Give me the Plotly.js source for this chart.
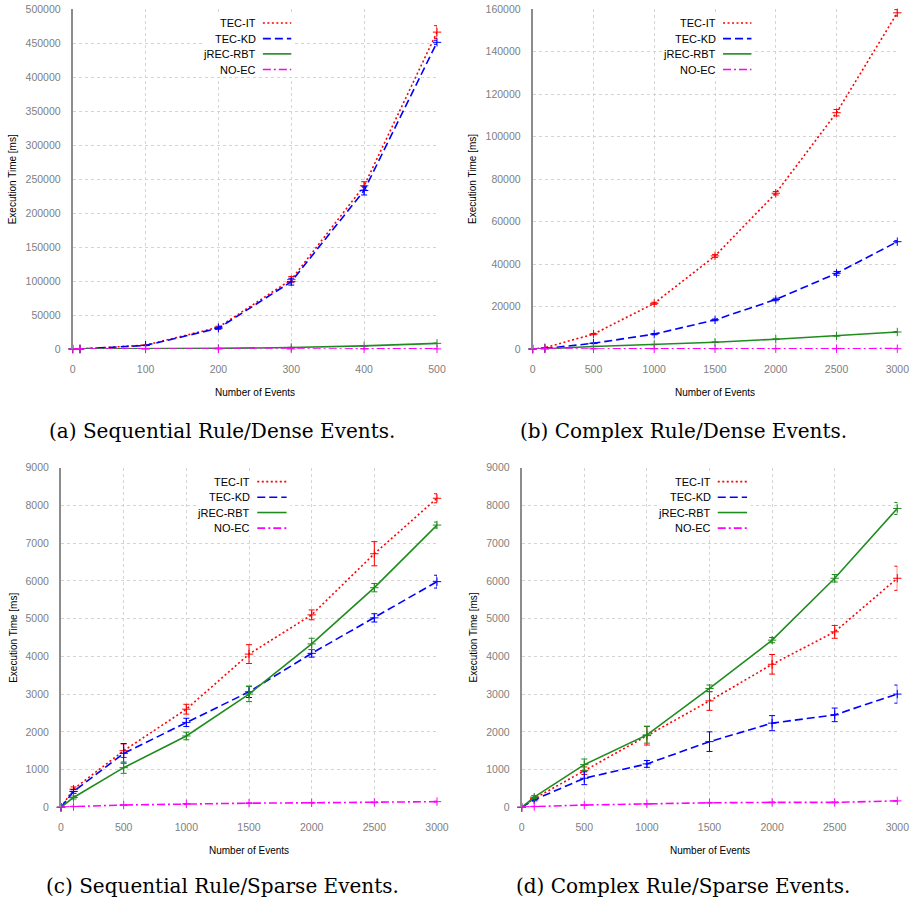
<!DOCTYPE html>
<html>
<head>
<meta charset="utf-8">
<script src="https://cdn.plot.ly/plotly-3.0.1.min.js"></script>
<style>html,body{margin:0;padding:0;background:#fff;}#chart{width:911px;height:909px;}</style>
</head>
<body>
<div id="chart"></div>
<script>
// ---------- data ----------
const seriesNames = ["TEC-IT", "TEC-KD", "jREC-RBT", "NO-EC"];

// (a) Sequential Rule / Dense Events
const xA = [0, 10, 100, 200, 300, 400, 500];
const aTecIt   = [0, 60, 5600, 32000, 102000, 240000, 466000];
const aTecItE  = [0, 0, 300, 1500, 4500, 6000, 9500];
const aTecKd   = [0, 50, 5200, 30500, 99000, 233000, 451000];
const aTecKdE  = [0, 0, 300, 1500, 5000, 6500, 3000];
const aJrec    = [0, 10, 300, 900, 2300, 4600, 8300];
const aJrecE   = [0, 0, 20, 50, 100, 150, 200];
const aNoec    = [0, 5, 30, 60, 90, 120, 150];
const aNoecE   = [0, 0, 5, 5, 10, 10, 10];

// (b) Complex Rule / Dense Events
const xB = [0, 100, 500, 1000, 1500, 2000, 2500, 3000];
const bTecIt   = [0, 600, 7000, 21500, 43800, 73300, 111200, 158200];
const bTecItE  = [0, 50, 300, 500, 700, 800, 1500, 1500];
const bTecKd   = [0, 200, 2700, 7000, 13700, 23300, 35600, 50500];
const bTecKdE  = [0, 20, 150, 300, 400, 600, 900, 500];
const bJrec    = [0, 100, 1200, 2100, 3200, 4600, 6200, 8000];
const bJrecE   = [0, 10, 50, 80, 100, 150, 150, 200];
const bNoec    = [0, 20, 60, 90, 110, 130, 140, 160];
const bNoecE   = [0, 2, 5, 5, 10, 10, 10, 10];

// (c) Sequential Rule / Sparse Events
const xC = [0, 100, 500, 1000, 1500, 2000, 2500, 3000];
const cTecIt   = [0, 480, 1500, 2600, 4060, 5100, 6720, 8190];
const cTecItE  = [0, 60, 180, 130, 250, 130, 320, 120];
const cTecKd   = [0, 420, 1430, 2250, 3060, 4080, 5020, 5980];
const cTecKdE  = [0, 50, 260, 110, 150, 100, 110, 170];
const cJrec    = [0, 260, 1050, 1890, 3000, 4330, 5820, 7480];
const cJrecE   = [0, 40, 150, 100, 200, 150, 110, 80];
const cNoec    = [0, 20, 60, 90, 110, 120, 130, 150];
const cNoecE   = [0, 5, 5, 5, 10, 10, 10, 10];

// (d) Complex Rule / Sparse Events
const xD = [0, 100, 500, 1000, 1500, 2000, 2500, 3000];
const dTecIt   = [0, 230, 970, 1900, 2820, 3790, 4650, 6070];
const dTecItE  = [0, 30, 100, 250, 250, 260, 170, 320];
const dTecKd   = [0, 200, 770, 1150, 1740, 2230, 2450, 3000];
const dTecKdE  = [0, 30, 170, 90, 260, 200, 180, 240];
const dJrec    = [0, 270, 1130, 1920, 3150, 4430, 6070, 7920];
const dJrecE   = [0, 40, 150, 220, 90, 70, 100, 160];
const dNoec    = [0, 20, 60, 90, 120, 130, 130, 170];
const dNoecE   = [0, 5, 5, 5, 10, 10, 10, 10];

const captions = ["(a) Sequential Rule/Dense Events.", "(b) Complex Rule/Dense Events.",
                  "(c) Sequential Rule/Sparse Events.", "(d) Complex Rule/Sparse Events."];
const xTitle = "Number of Events";
const yTitle = "Execution Time [ms]";

// ---------- styles ----------
const colors = ["#ff0000", "#0000ff", "#1f8c1f", "#ff00ff"];
const dashes = ["2px,2.5px", "8px,4px", "solid", "8px,3px,2px,3px"];

const panels = [
  {x: xA, ys: [aTecIt, aTecKd, aJrec, aNoec], es: [aTecItE, aTecKdE, aJrecE, aNoecE], xr: [0, 500], yr: [0, 500000], dx: 100, dy: 50000},
  {x: xB, ys: [bTecIt, bTecKd, bJrec, bNoec], es: [bTecItE, bTecKdE, bJrecE, bNoecE], xr: [0, 3000], yr: [0, 160000], dx: 500, dy: 20000},
  {x: xC, ys: [cTecIt, cTecKd, cJrec, cNoec], es: [cTecItE, cTecKdE, cJrecE, cNoecE], xr: [0, 3000], yr: [0, 9000], dx: 500, dy: 1000},
  {x: xD, ys: [dTecIt, dTecKd, dJrec, dNoec], es: [dTecItE, dTecKdE, dJrecE, dNoecE], xr: [0, 3000], yr: [0, 9000], dx: 500, dy: 1000}
];

// plot-area placement (pixels on the 911x909 page)
const W = 911, H = 909;
const boxes = [
  {x0: 72.7, x1: 437, y0: 9, y1: 349},
  {x0: 532.7, x1: 897.3, y0: 9, y1: 349},
  {x0: 61, x1: 437, y0: 467.7, y1: 807.3},
  {x0: 521.7, x1: 897.3, y0: 467.7, y1: 807.3}
];
const yTitleX = [13.3, 473, 13.3, 473];
const capY = [431, 431, 886, 886];
const capX = [222, 683, 222, 683];

const traces = [];
const layout = {
  width: W, height: H,
  margin: {l: 0, r: 0, t: 0, b: 0},
  paper_bgcolor: "#ffffff", plot_bgcolor: "#ffffff",
  showlegend: false,
  font: {family: "Liberation Sans, Arial, sans-serif", size: 10.5, color: "#000"},
  annotations: [], shapes: []
};

const tickFont = {family: "Liberation Sans, Arial, sans-serif", size: 10.5, color: "#808080"};

panels.forEach((p, i) => {
  const n = i + 1;
  const xa = "x" + (n === 1 ? "" : n), ya = "y" + (n === 1 ? "" : n);
  const xk = "xaxis" + (n === 1 ? "" : n), yk = "yaxis" + (n === 1 ? "" : n);
  const b = boxes[i];
  layout[xk] = {
    domain: [b.x0 / W, b.x1 / W], anchor: ya, range: p.xr, dtick: p.dx, tick0: 0,
    showgrid: true, gridcolor: "#d4d4d4", griddash: "dot", gridwidth: 1,
    zeroline: false, showline: false, ticks: "", tickfont: tickFont, tickformat: "d",
    ticklabelstandoff: 12, fixedrange: true
  };
  layout[yk] = {
    domain: [1 - b.y1 / H, 1 - b.y0 / H], anchor: xa, range: p.yr, dtick: p.dy, tick0: 0,
    showgrid: true, gridcolor: "#d4d4d4", griddash: "dot", gridwidth: 1,
    zeroline: false, showline: true, linecolor: "#8c8c8c", linewidth: 2,
    ticks: "", tickfont: tickFont, tickformat: "d",
    ticklabelstandoff: 8, fixedrange: true
  };
  p.ys.forEach((ys, s) => {
    traces.push({
      type: "scatter", mode: "lines+markers", name: seriesNames[s],
      x: p.x, y: ys, xaxis: xa, yaxis: ya,
      line: {color: colors[s], dash: dashes[s], width: 1.6},
      marker: {symbol: "cross-thin-open", size: 6, color: colors[s], line: {color: colors[s], width: 1}},
      error_y: {type: "data", array: p.es[s], visible: true, color: colors[s], thickness: 1, width: 3},
      cliponaxis: false
    });
  });
  // legend (text left, line sample right) on a white box
  const dx = xa + " domain", dy = ya + " domain";
  layout.shapes.push({type: "rect", xref: dx, yref: dy, x0: 0.36, x1: 0.61, y0: 0.80, y1: 0.99,
    fillcolor: "#ffffff", line: {width: 0}, layer: "above"});
  const rows = [0.959, 0.913, 0.868, 0.822];
  seriesNames.forEach((nm, s) => {
    layout.annotations.push({xref: dx, yref: dy, x: 0.509, y: rows[s], xanchor: "right", yanchor: "middle",
      text: nm, showarrow: false, font: {family: "Liberation Sans, Arial, sans-serif", size: 11, color: "#000"}});
    layout.shapes.push({type: "line", xref: dx, yref: dy, x0: 0.522, x1: 0.6, y0: rows[s], y1: rows[s],
      line: {color: colors[s], dash: dashes[s], width: 1.6}, layer: "above"});
  });
  // axis titles
  layout.annotations.push({xref: "paper", yref: "paper", x: (b.x0 + b.x1) / 2 / W, y: 1 - (b.y1 + 43) / H,
    xanchor: "center", yanchor: "middle", text: xTitle, showarrow: false,
    font: {family: "Liberation Sans, Arial, sans-serif", size: 10, color: "#000"}});
  layout.annotations.push({xref: "paper", yref: "paper", x: yTitleX[i] / W, y: 1 - (b.y0 + b.y1) / 2 / H,
    xanchor: "center", yanchor: "middle", textangle: -90, text: yTitle, showarrow: false,
    font: {family: "Liberation Sans, Arial, sans-serif", size: 10, color: "#000"}});
  // caption
  layout.annotations.push({xref: "paper", yref: "paper", x: capX[i] / W, y: 1 - capY[i] / H,
    xanchor: "center", yanchor: "middle", text: captions[i], showarrow: false,
    font: {family: "DejaVu Serif, Liberation Serif, serif", size: 20, color: "#000"}});
});

Plotly.newPlot("chart", traces, layout, {displayModeBar: false, staticPlot: true});
</script>
</body>
</html>
